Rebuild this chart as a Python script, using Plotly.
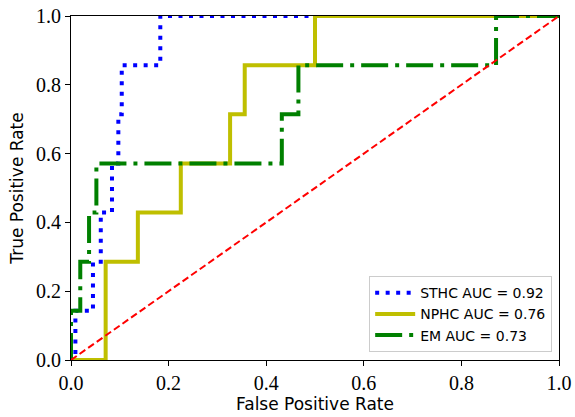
import plotly.graph_objects as go

# ROC curve vertices
sthc_fpr = [0.0, 0.009, 0.009, 0.045, 0.045, 0.061, 0.061, 0.084, 0.084, 0.097, 0.097, 0.104, 0.104, 0.183, 0.183, 1.0]
sthc_tpr = [0.0, 0.0, 0.1429, 0.1429, 0.2857, 0.2857, 0.4286, 0.4286, 0.5714, 0.5714, 0.7143, 0.7143, 0.8571, 0.8571, 1.0, 1.0]

nphc_fpr = [0.0, 0.071, 0.071, 0.137, 0.137, 0.225, 0.225, 0.326, 0.326, 0.356, 0.356, 0.500, 0.500, 1.0]
nphc_tpr = [0.0, 0.0, 0.2857, 0.2857, 0.4286, 0.4286, 0.5714, 0.5714, 0.7143, 0.7143, 0.8571, 0.8571, 1.0, 1.0]

em_fpr = [0.0, 0.0, 0.019, 0.019, 0.037, 0.037, 0.052, 0.052, 0.432, 0.432, 0.466, 0.466, 0.871, 0.871, 1.0]
em_tpr = [0.0, 0.1429, 0.1429, 0.2857, 0.2857, 0.4286, 0.4286, 0.5714, 0.5714, 0.7143, 0.7143, 0.8571, 0.8571, 1.0, 1.0]

chance = [0.0, 1.0]

labels = ["STHC AUC = 0.92", "NPHC AUC = 0.76", "EM AUC = 0.73"]
tick_vals = [0.0, 0.2, 0.4, 0.6, 0.8, 1.0]
tick_text = ["0.0", "0.2", "0.4", "0.6", "0.8", "1.0"]

fig = go.Figure()
fig.add_trace(go.Scatter(x=sthc_fpr, y=sthc_tpr, mode="lines", name=labels[0],
                         line=dict(color="#0000ff", width=4, dash="4px,6.5px")))
fig.add_trace(go.Scatter(x=nphc_fpr, y=nphc_tpr, mode="lines", name=labels[1],
                         line=dict(color="#bfbf00", width=4)))
fig.add_trace(go.Scatter(x=em_fpr, y=em_tpr, mode="lines", name=labels[2],
                         line=dict(color="#008000", width=4, dash="27px,7px,4px,7px")))
fig.add_trace(go.Scatter(x=chance, y=chance, mode="lines", showlegend=False,
                         line=dict(color="#ff0000", width=2, dash="7px,3.5px")))

axis_common = dict(
    range=[0, 1], tickvals=tick_vals, ticktext=tick_text,
    showline=True, linecolor="black", linewidth=1, mirror=True,
    ticks="outside", ticklen=5, tickwidth=1, tickcolor="black",
    showgrid=False, zeroline=False, automargin=False,
    tickfont=dict(family="'Liberation Serif', 'DejaVu Serif', serif", size=20, color="black"),
)

fig.update_layout(
    width=575, height=417,
    margin=dict(l=71, r=16, t=16, b=57, autoexpand=False),
    paper_bgcolor="white", plot_bgcolor="white",
    xaxis=dict(**axis_common,
               title=dict(text="False Positive Rate", standoff=0,
                          font=dict(family="DejaVu Sans", size=17, color="black"))),
    yaxis=dict(**axis_common,
               title=dict(text="True Positive Rate", standoff=8,
                          font=dict(family="DejaVu Sans", size=17, color="black"))),
    legend=dict(x=0.986, y=0.023, xanchor="right", yanchor="bottom",
                bgcolor="rgba(255,255,255,0.8)", bordercolor="#cccccc", borderwidth=1,
                font=dict(family="DejaVu Sans", size=14, color="black"),
                itemwidth=40),
)

fig.write_html("out.html", config={"displayModeBar": False},
               post_script="document.body.style.margin='0';document.body.style.overflow='hidden';")
